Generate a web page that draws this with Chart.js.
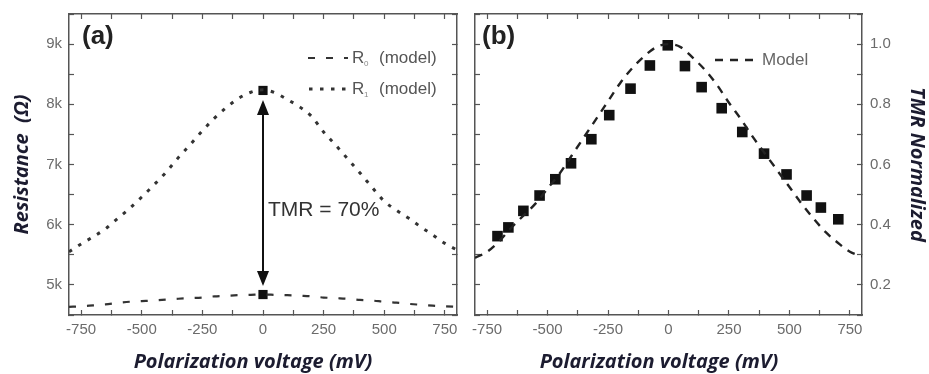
<!DOCTYPE html>
<html>
<head>
<meta charset="utf-8">
<script src="https://cdn.jsdelivr.net/npm/chart.js@4.4.1/dist/chart.umd.min.js"></script>
<style>
  body { margin: 0; background: #fff; }
  #wrap { position: relative; width: 929px; height: 374px; }
  canvas { position: absolute; top: 0; }
</style>
</head>
<body>
<div id="wrap">
  <canvas id="chartA" width="465" height="374" style="left:0"></canvas>
  <canvas id="chartB" width="464" height="374" style="left:465px"></canvas>
</div>
<script>
// voltage grid of the model curves (mV)
const modelVoltage = [-800, -750, -700, -650, -600, -550, -500, -450, -400, -350, -300, -250, -200, -150, -100, -50, 0,
  50, 100, 150, 200, 250, 300, 350, 400, 450, 500, 550, 600, 650, 700, 750, 800];

// panel (a): resistance models (ohm)
const r0Model = [4635, 4645, 4660, 4675, 4700, 4720, 4730, 4740, 4755, 4770, 4780, 4790, 4810, 4820, 4830, 4835, 4840,
  4835, 4830, 4820, 4810, 4790, 4780, 4770, 4750, 4740, 4720, 4705, 4685, 4670, 4655, 4645, 4635];
const r1Model = [5550, 5680, 5800, 5930, 6100, 6270, 6460, 6660, 6870, 7110, 7330, 7560, 7770, 7950, 8100, 8200, 8240,
  8190, 8080, 7960, 7800, 7540, 7320, 7090, 6860, 6620, 6390, 6240, 6110, 5965, 5830, 5690, 5580];
const measuredVoltage = [0, 0];
const measuredResistance = [8230, 4840];
const arrowEnds = [8070, 4980];

// panel (b): normalized TMR
const tmrModel = [0.29, 0.31, 0.345, 0.39, 0.43, 0.47, 0.52, 0.57, 0.63, 0.69, 0.75, 0.81, 0.87, 0.92, 0.96, 0.99, 1.0,
  0.99, 0.955, 0.915, 0.865, 0.805, 0.75, 0.69, 0.635, 0.58, 0.525, 0.47, 0.42, 0.375, 0.34, 0.31, 0.295];
const tmrVoltage = [-707, -662, -600, -533, -468, -403, -319, -245, -157, -77, -3, 68, 137, 220, 305, 395, 488, 571, 630, 702];
const tmrNormalized = [0.362, 0.391, 0.446, 0.497, 0.551, 0.604, 0.684, 0.764, 0.852, 0.929, 0.996, 0.927, 0.857, 0.787,
  0.708, 0.636, 0.567, 0.497, 0.457, 0.418];

const tickFont = { family: 'Liberation Sans, Arial, sans-serif', size: 15 };
const titleFont = { family: 'Open Sans, sans-serif', size: 20, weight: 'bold', style: 'italic' };
const titleColor = '#1c1c30';

function pts(xs, ys) {
  return xs.map((x, i) => ({ x: x, y: ys[i] }));
}

// shared axis look: dark frame, inward ticks, no grid
function axis(pos, opts) {
  return {
    type: 'linear',
    position: pos,
    min: opts.min,
    max: opts.max,
    border: { color: '#555', width: 1.5 },
    grid: { drawOnChartArea: false, tickLength: -5, tickColor: '#555', tickWidth: 1.2 },
    ticks: {
      display: !!opts.labels,
      stepSize: opts.step,
      autoSkip: false,
      maxRotation: 0,
      includeBounds: false,
      padding: opts.padding || 11,
      color: '#6b6b6b',
      font: tickFont,
      callback: opts.labels || (() => '')
    },
    title: opts.title || { display: false },
    afterFit: s => {
      if (opts.w !== undefined) s.width = opts.w;
      if (opts.h !== undefined) s.height = opts.h;
      s.paddingLeft = s.paddingRight = s.paddingTop = s.paddingBottom = 0;
    }
  };
}

const xLabel = v => (v % 250 === 0 ? String(v) : '');

function drawText(ctx, text, x, y, font, color, align) {
  ctx.save();
  ctx.font = font;
  ctx.fillStyle = color;
  ctx.textAlign = align || 'left';
  ctx.textBaseline = 'middle';
  ctx.fillText(text, x, y);
  ctx.restore();
}

function drawKey(ctx, ds, x1, x2, y) {
  ctx.save();
  ctx.strokeStyle = ds.borderColor;
  ctx.lineWidth = ds.borderWidth;
  ctx.setLineDash(ds.borderDash);
  ctx.beginPath();
  ctx.moveTo(x1, y);
  ctx.lineTo(x2, y);
  ctx.stroke();
  ctx.restore();
}

function drawModelLabel(ctx, sub, x, y) {
  drawText(ctx, 'R', x, y, '17px Liberation Sans, Arial', '#555');
  drawText(ctx, sub, x + 12, y + 6, '8px Liberation Sans, Arial', '#888');
  drawText(ctx, '(model)', x + 27, y, '17px Liberation Sans, Arial', '#555');
}

const annotateA = {
  id: 'annotateA',
  afterDatasetsDraw(chart) {
    const ctx = chart.ctx;
    const xs = chart.scales.x, ys = chart.scales.y;
    // double arrow between the two states
    const x0 = xs.getPixelForValue(0);
    const yTop = ys.getPixelForValue(arrowEnds[0]);
    const yBot = ys.getPixelForValue(arrowEnds[1]);
    ctx.save();
    ctx.strokeStyle = '#111';
    ctx.fillStyle = '#111';
    ctx.lineWidth = 2;
    ctx.beginPath();
    ctx.moveTo(x0, yTop + 10);
    ctx.lineTo(x0, yBot - 10);
    ctx.stroke();
    ctx.beginPath();
    ctx.moveTo(x0, yTop); ctx.lineTo(x0 - 6, yTop + 15); ctx.lineTo(x0 + 6, yTop + 15); ctx.closePath();
    ctx.fill();
    ctx.beginPath();
    ctx.moveTo(x0, yBot); ctx.lineTo(x0 - 6, yBot - 15); ctx.lineTo(x0 + 6, yBot - 15); ctx.closePath();
    ctx.fill();
    ctx.restore();

    drawText(ctx, 'TMR = 70%', 268, 210, '21px Liberation Sans, Arial', '#333');
    drawText(ctx, '(a)', 82, 37, 'bold 26px Liberation Sans, Arial', '#222');

    // legend
    const d = chart.data.datasets;
    drawKey(ctx, d[0], 308, 348, 58);
    drawModelLabel(ctx, '0', 352, 58);
    drawKey(ctx, d[1], 309, 347, 89);
    drawModelLabel(ctx, '1', 352, 89);

    drawText(ctx, 'Polarization voltage (mV)', 253, 362, 'italic bold 20px Open Sans', titleColor, 'center');
  }
};

const annotateB = {
  id: 'annotateB',
  afterDatasetsDraw(chart) {
    const ctx = chart.ctx;
    drawText(ctx, '(b)', 17, 37, 'bold 26px Liberation Sans, Arial', '#222');
    drawKey(ctx, chart.data.datasets[0], 250, 292, 60);
    drawText(ctx, 'Model', 297, 60, '17px Liberation Sans, Arial', '#666');
    drawText(ctx, 'Polarization voltage (mV)', 194, 362, 'italic bold 20px Open Sans', titleColor, 'center');
  }
};

new Chart(document.getElementById('chartA'), {
  type: 'scatter',
  data: {
    datasets: [
      {
        label: 'R0 (model)',
        data: pts(modelVoltage, r0Model),
        showLine: true,
        borderColor: '#333',
        borderWidth: 2.2,
        borderDash: [7, 11],
        pointRadius: 0,
        cubicInterpolationMode: 'monotone'
      },
      {
        label: 'R1 (model)',
        data: pts(modelVoltage, r1Model),
        showLine: true,
        borderColor: '#333',
        borderWidth: 3,
        borderDash: [3.5, 7.5],
        pointRadius: 0,
        cubicInterpolationMode: 'monotone'
      },
      {
        label: 'measured',
        data: pts(measuredVoltage, measuredResistance),
        pointStyle: 'rect',
        pointRadius: 6.5,
        backgroundColor: '#111',
        borderWidth: 0
      }
    ]
  },
  options: {
    responsive: false,
    animation: false,
    layout: { padding: 0 },
    plugins: { legend: { display: false }, tooltip: { enabled: false } },
    scales: {
      x: axis('bottom', { min: -800, max: 800, step: 125, labels: xLabel, h: 59 }),
      x2: axis('top', { min: -800, max: 800, step: 125, h: 14 }),
      y: axis('left', {
        min: 4500, max: 9500, step: 500, w: 69, padding: 12,
        labels: v => (v % 1000 === 0 ? v / 1000 + 'k' : ''),
        title: { display: true, text: 'Resistance  (\u03A9)', color: titleColor, font: titleFont, padding: { top: 10, bottom: 0 } }
      }),
      y2: axis('right', { min: 4500, max: 9500, step: 500, w: 8 })
    }
  },
  plugins: [annotateA]
});

new Chart(document.getElementById('chartB'), {
  type: 'scatter',
  data: {
    datasets: [
      {
        label: 'Model',
        data: pts(modelVoltage, tmrModel),
        showLine: true,
        borderColor: '#222',
        borderWidth: 2.4,
        borderDash: [8, 7],
        pointRadius: 0,
        cubicInterpolationMode: 'monotone'
      },
      {
        label: 'TMR',
        data: pts(tmrVoltage, tmrNormalized),
        pointStyle: 'rect',
        pointRadius: 7.5,
        backgroundColor: '#111',
        borderWidth: 0
      }
    ]
  },
  options: {
    responsive: false,
    animation: false,
    layout: { padding: 0 },
    plugins: { legend: { display: false }, tooltip: { enabled: false } },
    scales: {
      x: axis('bottom', { min: -800, max: 800, step: 125, labels: xLabel, h: 59 }),
      x2: axis('top', { min: -800, max: 800, step: 125, h: 14 }),
      yl: axis('left', { min: 0.1, max: 1.1, step: 0.1, w: 10 }),
      y: axis('right', {
        min: 0.1, max: 1.1, step: 0.1, w: 67, padding: 13,
        labels: v => (Math.round(v * 10) % 2 === 0 ? v.toFixed(1) : ''),
        title: { display: true, text: 'TMR Normalized', color: titleColor, font: titleFont, padding: { top: 0, bottom: 0 } }
      })
    }
  },
  plugins: [annotateB]
});
</script>
</body>
</html>
